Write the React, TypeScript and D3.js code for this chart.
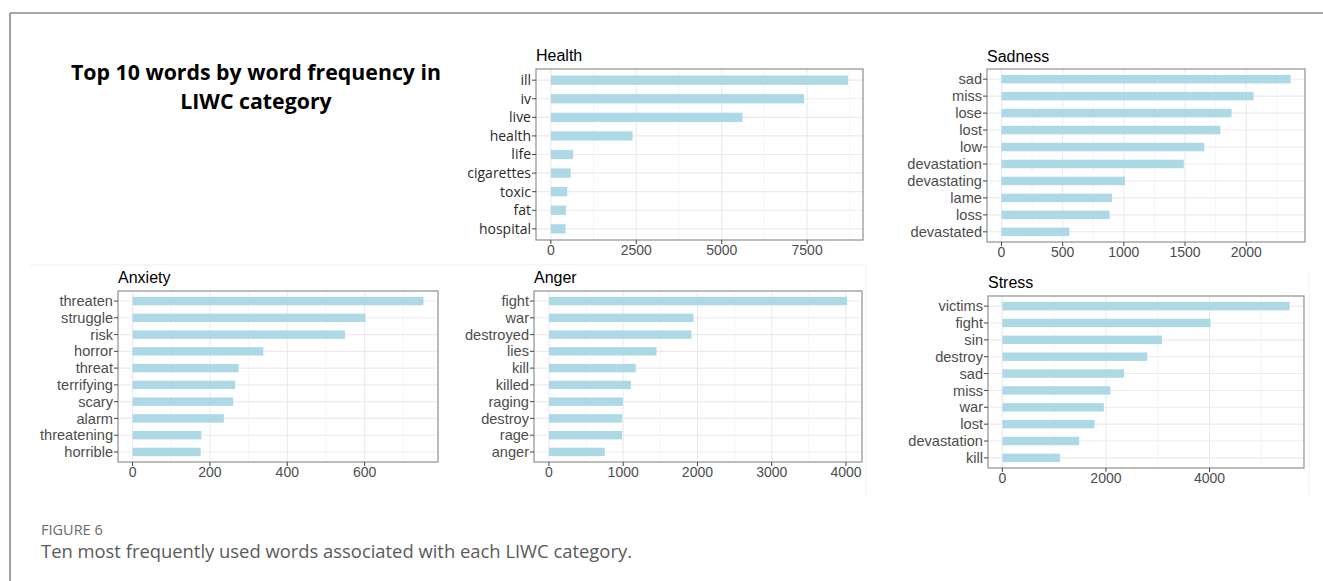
import React from "react";
import * as d3 from "d3";

// ---- data ----
const healthWords = ["ill", "iv", "live", "health", "life", "cigarettes", "toxic", "fat", "hospital"];
const healthCounts = [8700, 7410, 5610, 2390, 650, 580, 480, 440, 430];
const healthTicks = [0, 2500, 5000, 7500];

const sadnessWords = ["sad", "miss", "lose", "lost", "low", "devastation", "devastating", "lame", "loss", "devastated"];
const sadnessCounts = [2362, 2060, 1880, 1788, 1657, 1490, 1010, 903, 884, 555];
const sadnessTicks = [0, 500, 1000, 1500, 2000];

const anxietyWords = ["threaten", "struggle", "risk", "horror", "threat", "terrifying", "scary", "alarm", "threatening", "horrible"];
const anxietyCounts = [752, 602, 549, 338, 274, 265, 260, 236, 178, 176];
const anxietyTicks = [0, 200, 400, 600];

const angerWords = ["fight", "war", "destroyed", "lies", "kill", "killed", "raging", "destroy", "rage", "anger"];
const angerCounts = [4015, 1946, 1920, 1449, 1170, 1103, 996, 987, 987, 753];
const angerTicks = [0, 1000, 2000, 3000, 4000];

const stressWords = ["victims", "fight", "sin", "destroy", "sad", "miss", "war", "lost", "devastation", "kill"];
const stressCounts = [5547, 4019, 3082, 2799, 2350, 2086, 1959, 1778, 1483, 1111];
const stressTicks = [0, 2000, 4000];

const mainTitle = ["Top 10 words by word frequency in", "LIWC category"];
const figureLabel = "FIGURE 6";
const figureCaption = "Ten most frequently used words associated with each LIWC category.";

// ---- styling ----
const BAR = "#ADD8E6";
const GRID = "#EBEBEB";
const GRID_MINOR = "#F3F3F3";
const BORDER = "#8f8f8f";
const AXIS_TEXT = "#4D4D4D";
const SANS = "'Liberation Sans', Arial, sans-serif";
const OPEN = "'Open Sans', 'Noto Sans', sans-serif";

interface PanelProps {
  title: string;
  words: string[];
  counts: number[];
  ticks: number[];
  left: number;
  top: number;
  right: number;
  bottom: number;
  titleY: number;
  labelFont?: string;
  labelColor?: string;
  labelSize?: number;
}

const Panel: React.FC<PanelProps> = ({
  title,
  words,
  counts,
  ticks,
  left,
  top,
  right,
  bottom,
  titleY,
  labelFont = SANS,
  labelColor = AXIS_TEXT,
  labelSize = 14.6,
}) => {
  const maxV = d3.max(counts)!;
  // ggplot-like 5% expansion
  const x = d3
    .scaleLinear()
    .domain([-0.05 * maxV, 1.05 * maxV])
    .range([left, right]);
  const y = d3.scalePoint<string>().domain(words).range([top, bottom]).padding(0.6);
  const barH = y.step() * 0.5;

  const step = ticks[1] - ticks[0];
  const [d0, d1] = x.domain();
  const minor: number[] = [];
  if (ticks[0] - step / 2 > d0) minor.push(ticks[0] - step / 2);
  ticks.forEach((t) => {
    if (t + step / 2 < d1) minor.push(t + step / 2);
  });

  return (
    <g>
      <text x={left} y={titleY} fontFamily={SANS} fontSize={16} fill="#000">
        {title}
      </text>
      <rect x={left} y={top} width={right - left} height={bottom - top} fill="#fff" />
      {minor.map((m) => (
        <line key={"mn" + m} x1={x(m)} x2={x(m)} y1={top} y2={bottom} stroke={GRID_MINOR} strokeWidth={0.8} />
      ))}
      {ticks.map((t) => (
        <line key={"mj" + t} x1={x(t)} x2={x(t)} y1={top} y2={bottom} stroke={GRID} strokeWidth={1.1} />
      ))}
      {words.map((w) => (
        <line key={"h" + w} x1={left} x2={right} y1={y(w)!} y2={y(w)!} stroke={GRID} strokeWidth={1.1} />
      ))}
      {words.map((w, i) => (
        <rect
          key={"b" + w}
          x={x(0)}
          y={y(w)! - barH / 2}
          width={x(counts[i]) - x(0)}
          height={barH}
          fill={BAR}
        />
      ))}
      <rect x={left} y={top} width={right - left} height={bottom - top} fill="none" stroke={BORDER} strokeWidth={1.2} />
      {words.map((w) => (
        <g key={"yl" + w}>
          <line x1={left - 4} x2={left} y1={y(w)!} y2={y(w)!} stroke="#444" strokeWidth={1} />
          <text
            x={left - 5}
            y={y(w)!}
            dy="0.35em"
            textAnchor="end"
            fontFamily={labelFont}
            fontSize={labelSize}
            fill={labelColor}
          >
            {w}
          </text>
        </g>
      ))}
      {ticks.map((t) => (
        <g key={"xl" + t}>
          <line x1={x(t)} x2={x(t)} y1={bottom} y2={bottom + 4} stroke="#444" strokeWidth={1} />
          <text x={x(t)} y={bottom + 15} textAnchor="middle" fontFamily={SANS} fontSize={14} fill={AXIS_TEXT}>
            {t}
          </text>
        </g>
      ))}
    </g>
  );
};

const App: React.FC = () => {
  return (
    <svg
      width={1323}
      height={581}
      style={{ position: "absolute", left: 0, top: 0, background: "#fff" }}
    >
      {/* outer frame (top and left edges only) */}
      <line x1={10} x2={1323} y1={13} y2={13} stroke="#8a8a8a" strokeWidth={1.6} />
      <line x1={10} x2={10} y1={13} y2={581} stroke="#8a8a8a" strokeWidth={1.6} />

      {/* faint edges of the pasted plot images */}
      <line x1={30} x2={866} y1={265} y2={265} stroke="#f0f0f0" strokeWidth={1} />
      <line x1={866} x2={866} y1={265} y2={495} stroke="#f0f0f0" strokeWidth={1} />
      <line x1={1309} x2={1309} y1={270} y2={495} stroke="#f0f0f0" strokeWidth={1} />

      <text fontFamily={OPEN} fontWeight={700} fontSize={21.3} fill="#000" textAnchor="middle">
        <tspan x={256} y={80}>{mainTitle[0]}</tspan>
        <tspan x={256} y={109}>{mainTitle[1]}</tspan>
      </text>

      <Panel
        title="Health"
        words={healthWords}
        counts={healthCounts}
        ticks={healthTicks}
        left={536}
        top={69}
        right={863}
        bottom={240}
        titleY={61}
        labelFont={OPEN}
        labelColor="#2a2a2a"
        labelSize={14}
      />
      <Panel
        title="Sadness"
        words={sadnessWords}
        counts={sadnessCounts}
        ticks={sadnessTicks}
        left={987}
        top={69}
        right={1305}
        bottom={242}
        titleY={62}
      />
      <Panel
        title="Anxiety"
        words={anxietyWords}
        counts={anxietyCounts}
        ticks={anxietyTicks}
        left={118}
        top={291}
        right={438}
        bottom={462}
        titleY={283}
      />
      <Panel
        title="Anger"
        words={angerWords}
        counts={angerCounts}
        ticks={angerTicks}
        left={534}
        top={291}
        right={862}
        bottom={462}
        titleY={283}
      />
      <Panel
        title="Stress"
        words={stressWords}
        counts={stressCounts}
        ticks={stressTicks}
        left={988}
        top={296}
        right={1304}
        bottom={468}
        titleY={288}
      />

      <text x={41} y={535} fontFamily={OPEN} fontSize={14.5} fill="#6a6a6a">
        {figureLabel}
      </text>
      <text x={41} y={558} fontFamily={OPEN} fontSize={18.4} fill="#5a5a5a">
        {figureCaption}
      </text>
    </svg>
  );
};

export default App;
